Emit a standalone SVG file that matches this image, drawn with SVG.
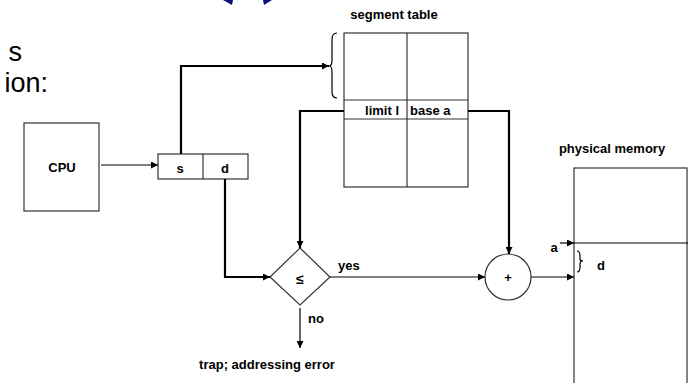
<svg xmlns="http://www.w3.org/2000/svg" width="688" height="383" viewBox="0 0 688 383">
<defs>
<marker id="ah" viewBox="0 0 10 10" refX="10" refY="5" markerWidth="9" markerHeight="7" markerUnits="userSpaceOnUse" orient="auto">
<path d="M0,0 L10,5 L0,10 Z" fill="#000"/>
</marker>
<style>
.box{fill:#fff;stroke:#333;stroke-width:1.2}
.thin{fill:none;stroke:#000;stroke-width:1.2}
.thick{fill:none;stroke:#000;stroke-width:2.2}
.lbl{font-family:"Liberation Sans",Arial,sans-serif;font-weight:bold;font-size:13px;fill:#000}
.big{font-family:"Liberation Sans",Arial,sans-serif;font-size:27px;fill:#000}
</style>
</defs>
<rect width="688" height="383" fill="#fff"/>
<!-- cropped fragments -->
<text class="big" x="22" y="61" text-anchor="end">s</text>
<text class="big" x="48" y="92" text-anchor="end">ion:</text>
<polygon points="223,0 233,0 232,5" fill="#10107a"/>
<polygon points="263,0 272,0 264,5" fill="#10107a"/>

<g id="cpu">
<rect class="box" x="24" y="123" width="75" height="88"/>
<text class="lbl" x="62" y="172" text-anchor="middle">CPU</text>
</g>
<g id="address">
<rect class="box" x="158" y="154" width="90" height="25"/>
<line class="box" x1="203" y1="154" x2="203" y2="179"/>
<text class="lbl" x="180" y="173" text-anchor="middle">s</text>
<text class="lbl" x="225" y="173" text-anchor="middle">d</text>
</g>
<g id="segment-table">
<text class="lbl" x="394" y="19" text-anchor="middle">segment table</text>
<rect class="box" x="344" y="33" width="124" height="154"/>
<line class="box" x1="407" y1="33" x2="407" y2="187"/>
<line class="box" x1="344" y1="100" x2="468" y2="100"/>
<line class="box" x1="344" y1="119" x2="468" y2="119"/>
<text class="lbl" x="399" y="115" text-anchor="end">limit l</text>
<text class="lbl" x="410" y="115">base a</text>
<path class="thin" d="M337,33 Q332,33 332,40 L332,60 Q332,66 329,66 Q332,66 332,72 L332,92 Q332,98 337,98"/>
</g>
<g id="compare">
<polygon class="box" points="300,248 330,277 300,305 270,277"/>
<text class="lbl" x="300" y="284" text-anchor="middle" style="font-size:14px">≤</text>
</g>
<g id="adder">
<circle class="box" cx="508" cy="277" r="23"/>
<text class="lbl" x="508" y="282" text-anchor="middle">+</text>
</g>
<g id="physical-memory">
<text class="lbl" x="612" y="153" text-anchor="middle">physical memory</text>
<rect class="box" x="574" y="168" width="113" height="230"/>
<line class="thin" x1="574" y1="243" x2="688" y2="243"/>
<path class="thin" d="M577,251 Q580,251 580,256 L580,259 Q580,261 583,261 Q580,261 580,264 L580,267 Q580,272 577,272"/>
<text class="lbl" x="601" y="270" text-anchor="middle">d</text>
<text class="lbl" x="554" y="252" text-anchor="middle">a</text>
</g>
<g id="trap">
<text class="lbl" x="267" y="369" text-anchor="middle">trap; addressing error</text>
</g>
<g id="connectors">
<line class="thin" x1="101" y1="165" x2="158" y2="165" marker-end="url(#ah)"/>
<polyline class="thick" points="181,154 181,66 329,66" marker-end="url(#ah)"/>
<polyline class="thick" points="344,111 300,111 300,248" marker-end="url(#ah)"/>
<polyline class="thick" points="468,111 509,111 509,254" marker-end="url(#ah)"/>
<polyline class="thick" points="225,179 225,277 270,277" marker-end="url(#ah)"/>
<line class="thin" x1="330" y1="277" x2="485" y2="277" marker-end="url(#ah)"/>
<line class="thin" x1="300" y1="308" x2="300" y2="348" marker-end="url(#ah)"/>
<line class="thin" x1="531" y1="277" x2="574" y2="277" marker-end="url(#ah)"/>
<line class="thin" x1="560" y1="243" x2="574" y2="243" marker-end="url(#ah)"/>
<text class="lbl" x="338" y="270">yes</text>
<text class="lbl" x="308" y="323">no</text>
</g>
</svg>
